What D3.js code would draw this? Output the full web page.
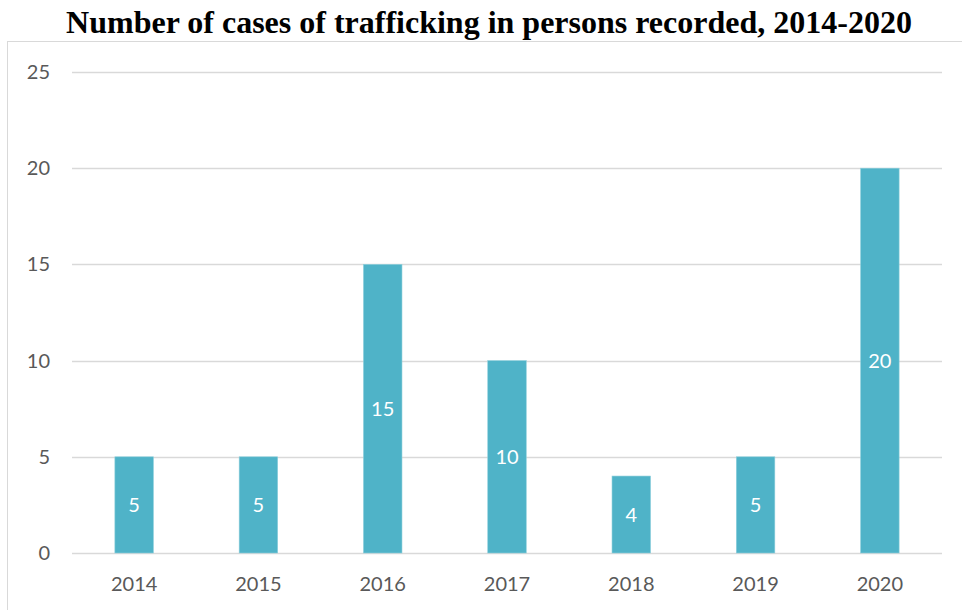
<!DOCTYPE html>
<html>
<head>
<meta charset="utf-8">
<script src="https://cdn.jsdelivr.net/npm/d3@7"></script>
<style>
  body { margin: 0; background: #fff; }
  svg { display: block; }
</style>
</head>
<body>
<script>
var years = ["2014", "2015", "2016", "2017", "2018", "2019", "2020"];
var cases = [5, 5, 15, 10, 4, 5, 20];
var yTicks = [0, 5, 10, 15, 20, 25];

var width = 962, height = 610;
var margin = { top: 72, right: 20, bottom: 57, left: 72 };

var svg = d3.select("body").append("svg")
    .attr("width", width)
    .attr("height", height);

// chart frame
svg.append("rect")
    .attr("x", 7.5).attr("y", 41.5)
    .attr("width", 960).attr("height", 600)
    .attr("fill", "none")
    .attr("stroke", "#d9d9d9");

svg.append("text")
    .attr("x", 489).attr("y", 33)
    .attr("text-anchor", "middle")
    .style("font-family", "'Liberation Serif', 'Times New Roman', serif")
    .style("font-weight", "bold")
    .style("font-size", "32px")
    .text("Number of cases of trafficking in persons recorded, 2014-2020");

var x = d3.scaleBand()
    .domain(years)
    .range([margin.left, width - margin.right])
    .paddingInner(0.69)
    .paddingOuter(0.345);

var y = d3.scaleLinear()
    .domain([0, 25])
    .range([height - margin.bottom, margin.top]);

// gridlines
svg.append("g").selectAll("line")
    .data(yTicks)
    .enter().append("line")
    .attr("x1", margin.left).attr("x2", width - margin.right)
    .attr("y1", function (d) { return Math.round(y(d)) + 0.5; })
    .attr("y2", function (d) { return Math.round(y(d)) + 0.5; })
    .attr("stroke", "#d9d9d9")
    .attr("stroke-width", 1.5);

var font = "Lato, 'Open Sans', sans-serif";

svg.append("g").selectAll("text")
    .data(yTicks)
    .enter().append("text")
    .attr("x", 50)
    .attr("y", function (d) { return y(d); })
    .attr("dy", "0.35em")
    .attr("text-anchor", "end")
    .style("font-family", font)
    .style("font-size", "20px")
    .style("fill", "#595959")
    .text(function (d) { return d; });

svg.append("g").selectAll("text")
    .data(years)
    .enter().append("text")
    .attr("x", function (d) { return x(d) + x.bandwidth() / 2; })
    .attr("y", 591)
    .attr("text-anchor", "middle")
    .style("font-family", font)
    .style("font-size", "20px")
    .style("fill", "#595959")
    .text(function (d) { return d; });

var bars = svg.append("g").selectAll("g")
    .data(years)
    .enter().append("g");

bars.append("rect")
    .attr("x", function (d) { return x(d); })
    .attr("y", function (d, i) { return y(cases[i]); })
    .attr("width", x.bandwidth())
    .attr("height", function (d, i) { return y(0) - y(cases[i]); })
    .attr("fill", "#4fb3c8")
    .attr("stroke", "#8fcfdc")
    .attr("stroke-width", 0.6);

// data labels in bar middle
bars.append("text")
    .attr("x", function (d) { return x(d) + x.bandwidth() / 2; })
    .attr("y", function (d, i) { return (y(cases[i]) + y(0)) / 2; })
    .attr("dy", "0.35em")
    .attr("text-anchor", "middle")
    .style("font-family", font)
    .style("font-size", "20px")
    .style("fill", "#fff")
    .text(function (d, i) { return cases[i]; });
</script>
</body>
</html>
